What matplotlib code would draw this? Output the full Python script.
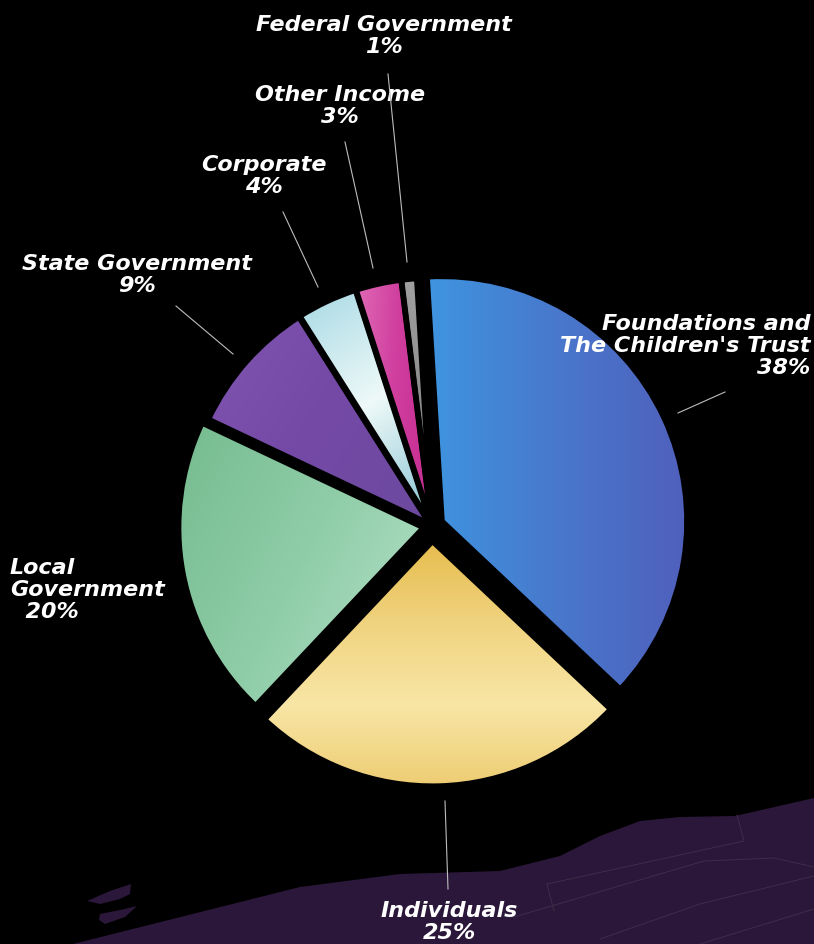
import numpy as np
import matplotlib.pyplot as plt
from matplotlib.colors import LinearSegmentedColormap
from matplotlib.patches import Polygon

# revenue sources, clockwise from 12 o'clock
labels = ["Foundations and\nThe Children's Trust", "Individuals", "Local\nGovernment",
          "State Government", "Corporate", "Other Income", "Federal Government"]
shares = [38, 25, 20, 9, 4, 3, 1]

explode = [0.045, 0.062, 0.035, 0.012, 0.012, 0.012, 0.012]
# (colours, gradient direction in degrees)
shades = [
    (["#3f95e0", "#4878cc", "#5060bc"], 0),
    (["#e6bc4e", "#f0d37f", "#f8e6a6", "#eecd74"], -90),
    (["#76bb90", "#8fcda8", "#b8e3cb"], -30),
    (["#8055b0", "#7449a6", "#6c4a9f"], -30),
    (["#a6d9e4", "#eef9f8", "#86c3d3"], -70),
    (["#e06ab6", "#d03e9e", "#c42c90"], -10),
    (["#a0a0a0", "#7a7a7a"], -90),
]

W, H = 814, 945


def Y(y):
    # picture rows counted from the top
    return H - y


fig = plt.figure(figsize=(8.14, 9.45), dpi=100, facecolor="black")
ax = fig.add_axes([0, 0, 1, 1])
ax.set_facecolor("black")

# purple land shape in the bottom corner
land = [(73, 945), (300, 888), (400, 875), (500, 872), (560, 857), (600, 837),
        (640, 822), (680, 818), (735, 817), (814, 799), (814, 945)]
ax.add_patch(Polygon([(x, Y(y)) for x, y in land], closed=True, fc="#2b1739", ec="none", zorder=0))
for leaf in ([(87, 902), (110, 892), (131, 885), (130, 895), (120, 900), (100, 905)],
             [(100, 915), (120, 911), (137, 907), (125, 918), (105, 925), (99, 921)]):
    ax.add_patch(Polygon([(x, Y(y)) for x, y in leaf], closed=True, fc="#2b1739", ec="none", zorder=0))
for contour in ([(547, 885), (744, 842), (737, 816)], [(547, 885), (554, 912)],
                [(514, 918), (704, 862), (774, 859), (814, 868)],
                [(600, 940), (700, 905), (814, 877)], [(700, 945), (814, 910)]):
    xs, ys = zip(*contour)
    ax.plot(xs, [Y(v) for v in ys], color="#3e2d4a", lw=0.7, zorder=0.5)

cx, cy, r = 432, Y(527), 245
# matplotlib takes explode in data units, so scale by the radius
wedges, _ = ax.pie(shares, explode=[e * r for e in explode], startangle=93.5, counterclock=False,
                   center=(cx, cy), radius=r, frame=True,
                   wedgeprops=dict(edgecolor="black", linewidth=4))

gx, gy = np.meshgrid(np.linspace(-1, 1, 200), np.linspace(-1, 1, 200))
for w, (cols, ang) in zip(wedges, shades):
    bb = w.get_path().get_extents()
    a = np.radians(ang)
    g = gx * np.cos(a) + gy * np.sin(a)
    cmap = LinearSegmentedColormap.from_list("s", cols)
    im = ax.imshow(g, extent=[bb.x0, bb.x1, bb.y0, bb.y1], origin="lower", cmap=cmap,
                   zorder=2, interpolation="bilinear", aspect="auto")
    im.set_clip_path(w)
    w.set_facecolor("none")
    w.set_zorder(3)

# leader lines
leaders = [
    [(388, 75), (407, 263)],
    [(345, 143), (373, 269)],
    [(283, 213), (318, 288)],
    [(176, 307), (233, 355)],
    [(678, 414), (725, 393)],
    [(445, 802), (448, 890)],
]
for (x0, y0), (x1, y1) in leaders:
    ax.plot([x0, x1], [Y(y0), Y(y1)], color="#bdbdbd", lw=0.8, zorder=4)

font = dict(family="DejaVu Sans", weight="bold", style="italic", color="white", fontsize=16)
pct = [f"{s}%" for s in shares]
ax.text(810, Y(346), labels[0] + "\n" + pct[0], ha="right", va="center", multialignment="right",
        linespacing=1.1, **font)
ax.text(449, Y(922), labels[1] + "\n" + pct[1], ha="center", va="center", linespacing=1.1, **font)
ax.text(10, Y(590), labels[2] + "\n  " + pct[2], ha="left", va="center", multialignment="left",
        linespacing=1.1, **font)
ax.text(137, Y(275), labels[3] + "\n" + pct[3], ha="center", va="center", linespacing=1.1, **font)
ax.text(264, Y(176), labels[4] + "\n" + pct[4], ha="center", va="center", linespacing=1.1, **font)
ax.text(340, Y(106), labels[5] + "\n" + pct[5], ha="center", va="center", linespacing=1.1, **font)
ax.text(384, Y(36), labels[6] + "\n" + pct[6], ha="center", va="center", linespacing=1.1, **font)

ax.set_xlim(0, W)
ax.set_ylim(0, H)
ax.axis("off")

fig.savefig("out.png", dpi=100, facecolor="black")
